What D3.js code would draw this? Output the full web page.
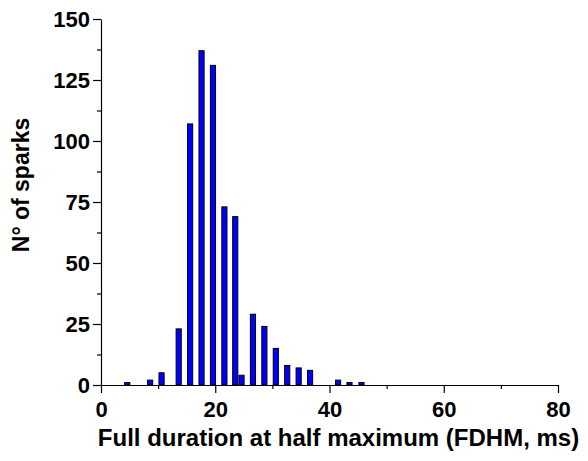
<!DOCTYPE html>
<html>
<head>
<meta charset="utf-8">
<script src="https://cdn.jsdelivr.net/npm/d3@7"></script>
<style>
  body { margin: 0; background: #fff; }
  .axis text { font-family: "Liberation Sans", Arial, sans-serif; font-weight: bold; font-size: 22px; fill: #000; }
  .axis path, .axis line { stroke: #000; stroke-width: 1.2; }
  .axis-label { font-family: "Liberation Sans", Arial, sans-serif; font-weight: bold; font-size: 23px; fill: #000; }
</style>
</head>
<body>
<div id="plot-container"></div>
<script>
// Histogram data (bin centers in ms, counts)
const fdhmBins = [4.6, 8.6, 10.6, 13.6, 15.6, 17.6, 19.6, 21.6, 23.5, 24.6, 26.6, 28.6, 30.6, 32.6, 34.6, 36.6, 41.5, 43.5, 45.6];
const sparkCounts = [1, 2, 5, 23, 107, 137, 131, 73, 69, 4, 29, 24, 15, 8, 7, 6, 2, 1, 1];
const xTicks = [0, 20, 40, 60, 80];
const yTicks = [0, 25, 50, 75, 100, 125, 150];

const data = fdhmBins.map((d, i) => ({ x: d, n: sparkCounts[i] }));

const margin = { top: 19, right: 30, bottom: 76, left: 101 };
const width = 588 - margin.left - margin.right;
const height = 461 - margin.top - margin.bottom;

const svg = d3.select("#plot-container")
    .append("svg")
    .attr("width", 588)
    .attr("height", 461)
    .append("g")
    .attr("transform", `translate(${margin.left},${margin.top})`);

const xScale = d3.scaleLinear().domain([0, 80]).range([0, width]);
const yScale = d3.scaleLinear().domain([0, 150]).range([height, 0]);

const barW = xScale(0.9) - xScale(0);

svg.selectAll(".bar")
    .data(data)
    .enter()
    .append("rect")
    .attr("class", "bar")
    .attr("x", d => xScale(d.x) - barW / 2)
    .attr("y", d => yScale(d.n))
    .attr("width", barW)
    .attr("height", d => height - yScale(d.n))
    .attr("fill", "#0000ff")
    .attr("stroke", "#000")
    .attr("stroke-width", 1);

// minor ticks
svg.append("g")
    .attr("class", "axis")
    .attr("transform", `translate(0,${height})`)
    .call(d3.axisBottom(xScale).tickValues([10, 30, 50, 70]).tickSize(4).tickFormat(""))
    .call(g => g.select(".domain").remove());

svg.append("g")
    .attr("class", "axis")
    .call(d3.axisLeft(yScale).tickValues([12.5, 37.5, 62.5, 87.5, 112.5, 137.5]).tickSize(4).tickFormat(""))
    .call(g => g.select(".domain").remove());

svg.append("g")
    .attr("class", "axis")
    .attr("transform", `translate(0,${height})`)
    .call(d3.axisBottom(xScale).tickValues(xTicks).tickSize(8).tickSizeOuter(0).tickPadding(8));

svg.append("g")
    .attr("class", "axis")
    .call(d3.axisLeft(yScale).tickValues(yTicks).tickSize(8).tickSizeOuter(0).tickPadding(3));

svg.append("text")
    .attr("class", "axis-label")
    .style("font-size", "24px")
    .attr("x", width / 2 + 9)
    .attr("y", height + 61)
    .style("text-anchor", "middle")
    .text("Full duration at half maximum (FDHM, ms)");

svg.append("text")
    .attr("class", "axis-label")
    .attr("transform", "rotate(-90)")
    .attr("x", -166)
    .attr("y", -margin.left + 29)
    .style("text-anchor", "middle")
    .text("N° of sparks");
</script>
</body>
</html>
